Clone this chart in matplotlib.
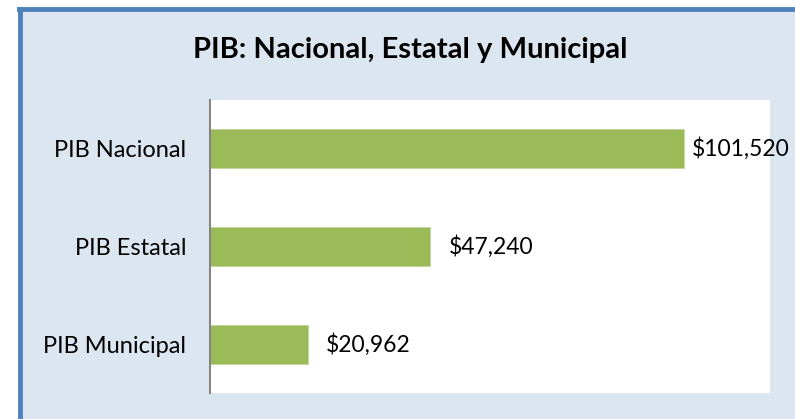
import matplotlib
matplotlib.use("Agg")
import matplotlib.pyplot as plt
from matplotlib.patches import Rectangle

# datos
categorias = ["PIB Nacional", "PIB Estatal", "PIB Municipal"]
valores = [101520, 47240, 20962]
etiquetas = ["$101,520", "$47,240", "$20,962"]

plt.rcParams['font.family'] = ['Lato', 'DejaVu Sans']

W, H = 795, 419
fig = plt.figure(figsize=(W / 100, H / 100), dpi=100)
fig.patch.set_facecolor("white")

# fondo del grafico con borde azul a la izquierda y arriba
fig.patches.append(Rectangle((19 / W, 0), 1, (H - 9) / H, transform=fig.transFigure,
                             facecolor="#dce6f1", edgecolor="none", zorder=-10))
fig.lines.append(plt.Line2D([20 / W, 20 / W], [0, (H - 9) / H], transform=fig.transFigure,
                            color="#4f81bd", lw=3.5, zorder=-5))
fig.lines.append(plt.Line2D([19 / W, 1], [(H - 9) / H, (H - 9) / H], transform=fig.transFigure,
                            color="#4f81bd", lw=3.5, zorder=-5))

ax = fig.add_axes([210 / W, (H - 393) / H, 560 / W, 293 / H])
ax.set_facecolor("white")

xmax = 120000
y = list(range(len(categorias)))
ax.barh(y, valores, height=0.4, color="#9bbb59", edgecolor="#c3d69b", linewidth=0.6)
ax.set_xlim(0, xmax)
ax.set_ylim(len(categorias) - 0.5, -0.5)
ax.set_yticks(y)
ax.set_yticklabels(categorias, fontsize=17)
ax.tick_params(axis="y", length=0, pad=17)
ax.set_xticks([])
for s in ["top", "right", "bottom"]:
    ax.spines[s].set_visible(False)
ax.spines["left"].set_color("#868686")
ax.spines["left"].set_linewidth(1.5)

# etiquetas de valor (la mas larga queda pegada a la barra, como en Excel)
for yi, v, t in zip(y, valores, etiquetas):
    pad = 5.5 if v > 0.8 * xmax else 13
    ax.annotate(t, (v, yi), xytext=(pad, 0), textcoords="offset points",
                va="center", ha="left", fontsize=16.5, clip_on=False)

fig.text(410 / W, 1 - 50 / H, "PIB: Nacional, Estatal y Municipal",
         ha="center", va="center", fontsize=21, fontweight="bold")

fig.savefig("out.png", dpi=100, facecolor=fig.get_facecolor())
